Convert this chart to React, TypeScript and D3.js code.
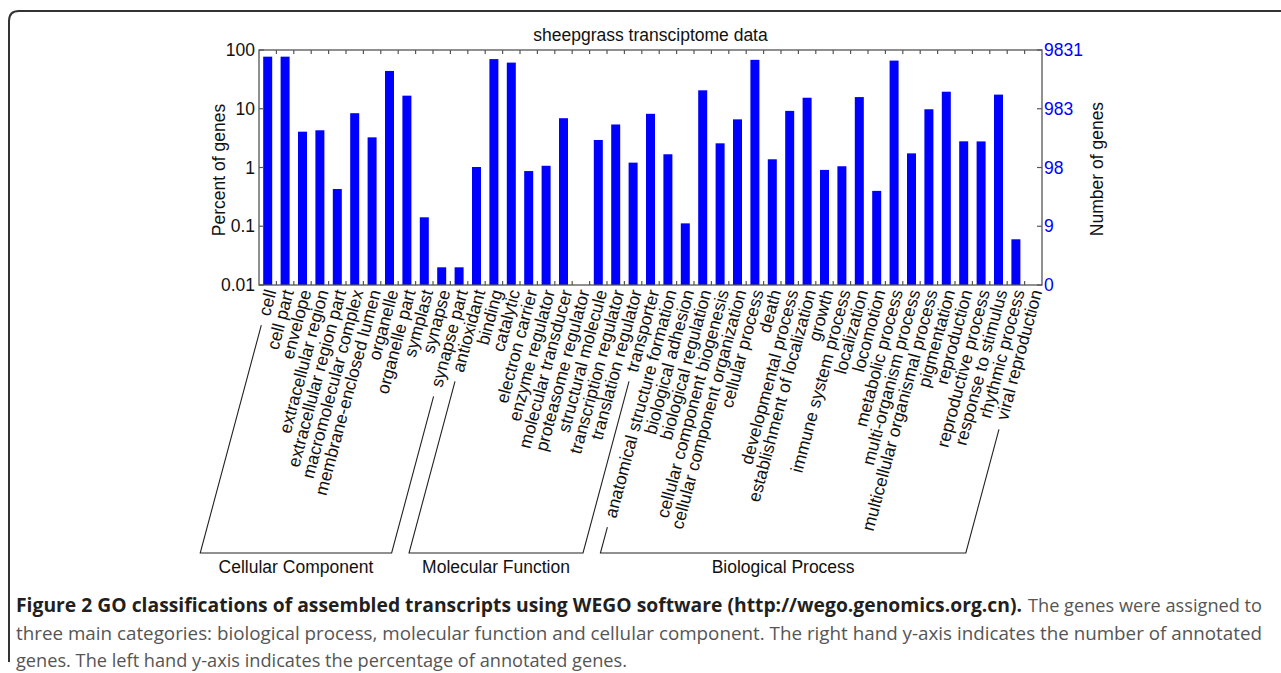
import { useEffect, useRef } from "react";
import * as d3 from "d3";

// GO terms, in plot order
const categories = [
  "cell", "cell part", "envelope", "extracellular region", "extracellular region part",
  "macromolecular complex", "membrane-enclosed lumen", "organelle", "organelle part",
  "symplast", "synapse", "synapse part",
  "antioxidant", "binding", "catalytic", "electron carrier", "enzyme regulator",
  "molecular transducer", "proteasome regulator", "structural molecule",
  "transcription regulator", "translation regulator", "transporter",
  "anatomical structure formation", "biological adhesion", "biological regulation",
  "cellular component biogenesis", "cellular component organization", "cellular process",
  "death", "developmental process", "establishment of localization", "growth",
  "immune system process", "localization", "locomotion", "metabolic process",
  "multi-organism process", "multicellular organismal process", "pigmentation",
  "reproduction", "reproductive process", "response to stimulus", "rhythmic process",
  "viral reproduction",
];

// percent of genes (0 = no bar)
const percents = [
  77, 77, 4.07, 4.3, 0.43, 8.4, 3.26, 44, 16.7, 0.142, 0.02, 0.02,
  1.02, 70, 61, 0.87, 1.07, 6.9, 0, 2.94, 5.4, 1.21, 8.2,
  1.68, 0.112, 20.6, 2.58, 6.6, 68, 1.38, 9.2, 15.4, 0.91, 1.05, 15.8, 0.40, 66,
  1.74, 9.8, 19.5, 2.79, 2.78, 17.4, 0.06, 0,
];

const groupNames = ["Cellular Component", "Molecular Function", "Biological Process"];
const groupFirst = [0, 12, 23];
const groupLast = [11, 22, 44];

const leftTicks = [0.01, 0.1, 1, 10, 100];
const leftTickLabels = ["0.01", "0.1", "1", "10", "100"];
const rightTickLabels = ["0", "9", "98", "983", "9831"];

const title = "sheepgrass transciptome data";
const captionBold = "Figure 2 GO classifications of assembled transcripts using WEGO software (http://wego.genomics.org.cn).";
const captionLines = [
  "The genes were assigned to",
  "three main categories: biological process, molecular function and cellular component. The right hand y-axis indicates the number of annotated",
  "genes. The left hand y-axis indicates the percentage of annotated genes.",
];

const W = 1281;
const H = 673;
const FONT = '"Liberation Sans", Arial, Helvetica, sans-serif';
const CAP_FONT = '"Open Sans", "Noto Sans", sans-serif';
const FS = 17.5;

export default function App() {
  const svgRef = useRef<SVGSVGElement>(null);

  useEffect(() => {
    if (!svgRef.current) return;
    const svg = d3.select(svgRef.current);
    svg.selectAll("*").remove();

    const left = 259, right = 1042, top = 50, bottom = 285;
    const x = d3.scaleBand<string>().domain(categories).range([left, right]);
    const y = d3.scaleLog().domain([0.01, 100]).range([bottom, top]);
    const bw = 9;
    const cx = (c: string) => (x(c) ?? 0) + x.bandwidth() / 2;

    // frame
    svg.append("path")
      .attr("d", `M ${W} 11 H 19 Q 9 11 9 21 V 662`)
      .attr("fill", "none")
      .attr("stroke", "#333")
      .attr("stroke-width", 2);

    // bars
    svg.append("g")
      .selectAll("rect")
      .data(categories.map((c, i) => ({ c, v: percents[i] })).filter((d) => d.v > 0))
      .join("rect")
      .attr("x", (d) => cx(d.c) - bw / 2)
      .attr("y", (d) => y(d.v))
      .attr("width", bw)
      .attr("height", (d) => bottom - y(d.v))
      .attr("fill", "#0000ff");

    // plot box
    const axisColor = "#555";
    svg.append("rect")
      .attr("x", left).attr("y", top)
      .attr("width", right - left).attr("height", bottom - top)
      .attr("fill", "none").attr("stroke", axisColor).attr("stroke-width", 1.3);

    // category ticks (band boundaries) top and bottom
    const bounds = categories.slice(1).map((c) => x(c) ?? 0);
    const tk = svg.append("g").attr("stroke", axisColor).attr("stroke-width", 1.2);
    bounds.forEach((b) => {
      tk.append("line").attr("x1", b).attr("x2", b).attr("y1", top).attr("y2", top + 4);
      tk.append("line").attr("x1", b).attr("x2", b).attr("y1", bottom).attr("y2", bottom - 4);
    });
    leftTicks.forEach((t) => {
      tk.append("line").attr("x1", left).attr("x2", left + 5).attr("y1", y(t)).attr("y2", y(t));
      tk.append("line").attr("x1", right).attr("x2", right - 5).attr("y1", y(t)).attr("y2", y(t));
    });

    // tick labels
    const tl = svg.append("g").attr("font-family", FONT).attr("font-size", FS);
    leftTicks.forEach((t, i) => {
      tl.append("text").attr("x", left - 4).attr("y", y(t)).attr("dy", "0.35em")
        .attr("text-anchor", "end").attr("fill", "#111").text(leftTickLabels[i]);
      tl.append("text").attr("x", right + 2).attr("y", y(t)).attr("dy", "0.35em")
        .attr("text-anchor", "start").attr("fill", "#0000ff").text(rightTickLabels[i]);
    });

    // title and axis labels
    tl.append("text").attr("x", (left + right) / 2).attr("y", 41)
      .attr("text-anchor", "middle").attr("fill", "#111").text(title);
    tl.append("text").attr("transform", `translate(225,170) rotate(-90)`)
      .attr("text-anchor", "middle").attr("fill", "#111").text("Percent of genes");
    tl.append("text").attr("transform", `translate(1103,169) rotate(-90)`)
      .attr("text-anchor", "middle").attr("fill", "#111").text("Number of genes");

    // rotated category labels
    const ang = -75;
    const rad = (ang * Math.PI) / 180;
    const dx = Math.cos(rad), dy = Math.sin(rad);
    const ay = 290;
    const lens: number[] = [];
    categories.forEach((c) => {
      const t = tl.append("text")
        .attr("transform", `translate(${cx(c) + 3},${ay}) rotate(${ang})`)
        .attr("text-anchor", "end").attr("dy", "0.35em").attr("fill", "#111").text(c);
      lens.push((t.node() as SVGTextElement).getComputedTextLength());
    });

    // group brackets
    const baseY = 553;
    const gap = 10;
    const br = svg.append("g");
    groupNames.forEach((name, gi) => {
      const ends = [groupFirst[gi], groupLast[gi]].map((i) => {
        const ax = cx(categories[i]) + 3;
        const qx = ax - (lens[i] + gap) * dx;
        const qy = ay - (lens[i] + gap) * dy;
        const t = (baseY - qy) / -dy;
        return { qx, qy, bx: qx - t * dx };
      });
      const [a, b] = ends;
      br.append("path")
        .attr("d", `M ${a.qx} ${a.qy} L ${a.bx} ${baseY} L ${b.bx} ${baseY} L ${b.qx} ${b.qy}`)
        .attr("fill", "none").attr("stroke", "#222").attr("stroke-width", 1.1);
      br.append("text")
        .attr("x", (a.bx + b.bx) / 2).attr("y", 573)
        .attr("text-anchor", "middle").attr("font-family", FONT).attr("font-size", FS)
        .attr("fill", "#111").text(name);
    });

    // caption
    const cap = svg.append("g").attr("font-family", CAP_FONT).attr("font-size", 19);
    cap.append("text").attr("x", 16).attr("y", 612).attr("font-weight", 700)
      .attr("fill", "#231f20").attr("textLength", 1006).attr("lengthAdjust", "spacingAndGlyphs")
      .text(captionBold);
    cap.append("text").attr("x", 1028).attr("y", 612).attr("fill", "#555")
      .attr("textLength", 234).attr("lengthAdjust", "spacingAndGlyphs").text(captionLines[0]);
    cap.append("text").attr("x", 16).attr("y", 640).attr("fill", "#555")
      .attr("textLength", 1246).attr("lengthAdjust", "spacingAndGlyphs").text(captionLines[1]);
    cap.append("text").attr("x", 16).attr("y", 667).attr("fill", "#555")
      .attr("textLength", 611).attr("lengthAdjust", "spacingAndGlyphs").text(captionLines[2]);
  }, []);

  return (
    <svg
      ref={svgRef}
      width={W}
      height={H}
      style={{ position: "absolute", left: 0, top: 0, background: "#fff" }}
    />
  );
}
